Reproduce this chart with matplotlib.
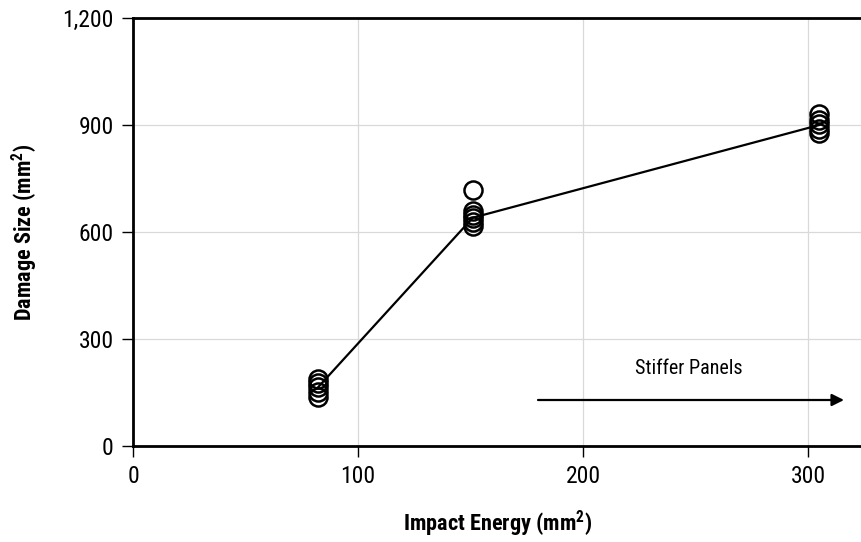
import matplotlib
matplotlib.use("Agg")
import matplotlib.pyplot as plt
from matplotlib.ticker import FuncFormatter

energy_a = [82, 82, 82, 82, 82]
damage_a = [188, 176, 165, 152, 137]
energy_b = [151, 151, 151, 151, 151, 151]
damage_b = [718, 658, 648, 638, 628, 618]
energy_c = [305, 305, 305, 305, 305]
damage_c = [931, 915, 902, 890, 877]

# 평균 추세선
trend_x = [82, 151, 305]
trend_y = [163, 640, 900]

x_ticks = [0, 100, 200, 300]
y_ticks = [0, 300, 600, 900, 1200]

FONT = "Roboto Condensed"
plt.rcParams["font.family"] = [FONT, "Liberation Sans", "DejaVu Sans"]
plt.rcParams["mathtext.fontset"] = "custom"
plt.rcParams["mathtext.rm"] = FONT
plt.rcParams["mathtext.bf"] = FONT + ":bold"

fig = plt.figure(figsize=(8.62, 5.42), dpi=100)
ax = fig.add_axes([0.1543, 0.1771, 0.8457, 0.7897])

ax.plot(trend_x, trend_y, "-", color="black", lw=1.6, zorder=3)
for xs, ys in [(energy_a, damage_a), (energy_b, damage_b), (energy_c, damage_c)]:
    ax.plot(xs, ys, "o", ms=13, mfc="none", mec="black", mew=1.8, zorder=4)

ax.set_xlim(0, 324)
ax.set_ylim(0, 1200)
ax.set_xticks(x_ticks)
ax.set_yticks(y_ticks)
ax.yaxis.set_major_formatter(FuncFormatter(lambda v, p: f"{int(v):,}"))
ax.grid(True, color="#d9d9d9", lw=0.9)
ax.set_axisbelow(True)

for side in ["left", "bottom", "top"]:
    ax.spines[side].set_linewidth(2)
    ax.spines[side].set_color("black")
ax.spines["right"].set_visible(False)
ax.tick_params(axis="both", labelsize=17, length=8, width=1, direction="out", pad=6)

ax.set_xlabel("Impact Energy (mm$\\mathbf{^2}$)", fontsize=16, fontweight="bold", labelpad=15)
ax.set_ylabel("Damage Size (mm$\\mathbf{^2}$)", fontsize=16, fontweight="bold", labelpad=16)

ax.annotate("", xy=(316, 129), xytext=(180, 129),
            arrowprops=dict(arrowstyle="-|>", color="black", lw=1.6,
                            mutation_scale=18, shrinkA=0, shrinkB=0))
ax.text(247, 216, "Stiffer Panels", ha="center", va="center", fontsize=14.5)

fig.savefig("out.png", dpi=100)
